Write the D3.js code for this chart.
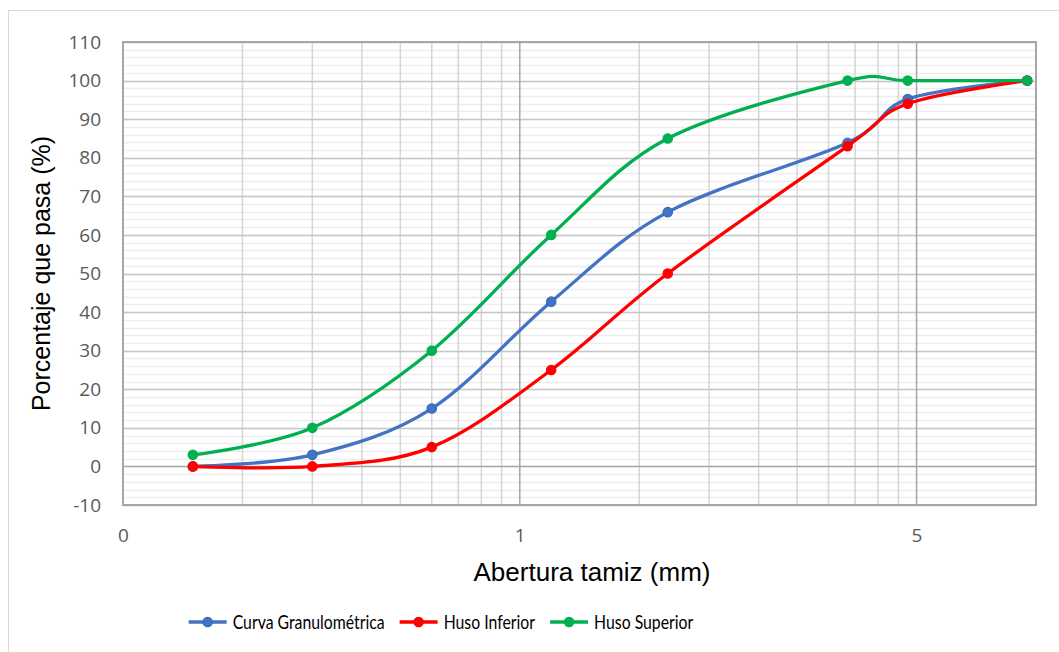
<!DOCTYPE html>
<html>
<head>
<meta charset="utf-8">
<script src="https://cdn.jsdelivr.net/npm/d3@7"></script>
<style>
  body { margin: 0; background: #fff; }
  svg { display: block; }
</style>
</head>
<body>
<div id="chart"></div>
<script>
// sieve openings (mm) and % passing
var sieve = [0.15, 0.3, 0.6, 1.2, 2.36, 6.7, 9.5, 19];
var curva = [0, 3, 15, 42.7, 65.9, 83.9, 95.2, 100];
var husoInf = [0, 0, 5, 25, 50, 83, 94, 100];
var husoSup = [3, 10, 30, 60, 85, 100, 100, 100];

var seriesNames = ["Curva Granulométrica", "Huso Inferior", "Huso Superior"];
var seriesColors = ["#4472C4", "#FF0000", "#00B050"];
var markerStroke = ["#2E6DB8", "#FF0000", "#00B050"];

var xTicks = [0.1, 1, 10];
var xTickLabels = ["0", "1", "5"];
var xMinor = [0.2, 0.3, 0.4, 0.5, 0.6, 0.7, 0.8, 0.9, 2, 3, 4, 5, 6, 7, 8, 9];
var yTicks = d3.range(-10, 111, 10);
var yMinor = d3.range(-10, 111, 2);

var width = 1059, height = 652;
var plot = { left: 123, top: 42, right: 1036, bottom: 505 };

var svg = d3.select("#chart").append("svg")
    .attr("width", width).attr("height", height);

// chart border
svg.append("rect")
    .attr("x", 8.5).attr("y", 10.5)
    .attr("width", 1100).attr("height", 700)
    .attr("fill", "#fff").attr("stroke", "#d9d9d9");

var x = d3.scaleLog().domain([0.1, 20]).range([plot.left, plot.right]);
var y = d3.scaleLinear().domain([-10, 110]).range([plot.bottom, plot.top]);

var grid = svg.append("g");

grid.selectAll(".ymin").data(yMinor).enter().append("line")
    .attr("x1", plot.left).attr("x2", plot.right)
    .attr("y1", function(d) { return Math.round(y(d)) + 0.5; })
    .attr("y2", function(d) { return Math.round(y(d)) + 0.5; })
    .attr("stroke", "#ededed").attr("stroke-width", 1.5);

grid.selectAll(".xmin").data(xMinor).enter().append("line")
    .attr("x1", function(d) { return x(d); }).attr("x2", function(d) { return x(d); })
    .attr("y1", plot.top).attr("y2", plot.bottom)
    .attr("stroke", "#d6d6d6").attr("stroke-width", 1.5);

grid.selectAll(".ymaj").data(yTicks).enter().append("line")
    .attr("x1", plot.left).attr("x2", plot.right)
    .attr("y1", function(d) { return Math.round(y(d)) + 0.5; })
    .attr("y2", function(d) { return Math.round(y(d)) + 0.5; })
    .attr("stroke", function(d) { return d === 0 ? "#a6a6a6" : "#c6c6c6"; })
    .attr("stroke-width", 1.5);

grid.selectAll(".xmaj").data(xTicks).enter().append("line")
    .attr("x1", function(d) { return x(d); }).attr("x2", function(d) { return x(d); })
    .attr("y1", plot.top).attr("y2", plot.bottom)
    .attr("stroke", "#a6a6a6").attr("stroke-width", 1.5);

// plot area frame
svg.append("rect")
    .attr("x", plot.left).attr("y", plot.top)
    .attr("width", plot.right - plot.left).attr("height", plot.bottom - plot.top)
    .attr("fill", "none").attr("stroke", "#a6a6a6").attr("stroke-width", 2);

// axes (labels only)
var yAxis = svg.append("g")
    .attr("transform", "translate(" + (plot.left - 22) + ",0)")
    .call(d3.axisLeft(y).tickValues(yTicks).tickSize(0).tickPadding(0)
        .tickFormat(function(d) { return String(d); }));
yAxis.select(".domain").remove();
yAxis.selectAll("text")
    .attr("font-family", "'Open Sans', sans-serif").attr("font-size", "19px")
    .attr("fill", "#595959");

var xAxis = svg.append("g")
    .attr("transform", "translate(0," + (plot.bottom + 23) + ")")
    .call(d3.axisBottom(x).tickValues(xTicks).tickSize(0).tickPadding(0)
        .tickFormat(function(d, i) { return xTickLabels[i]; }));
xAxis.select(".domain").remove();
xAxis.selectAll("text")
    .attr("font-family", "'Open Sans', sans-serif").attr("font-size", "19px")
    .attr("fill", "#595959");

// axis titles
svg.append("text")
    .attr("transform", "translate(50," + ((plot.top + plot.bottom) / 2) + ") rotate(-90)")
    .attr("text-anchor", "middle")
    .attr("font-family", "'Liberation Sans', Arial, sans-serif").attr("font-size", "25px")
    .attr("fill", "#000")
    .text("Porcentaje que pasa (%)");

svg.append("text")
    .attr("x", 592).attr("y", 581)
    .attr("text-anchor", "middle")
    .attr("font-family", "'Liberation Sans', Arial, sans-serif").attr("font-size", "26px")
    .attr("fill", "#000")
    .text("Abertura tamiz (mm)");

// series
var allSeries = [curva, husoInf, husoSup];
var line = d3.line()
    .x(function(d) { return x(d[0]); })
    .y(function(d) { return y(d[1]); })
    .curve(d3.curveCardinal.tension(0));

allSeries.forEach(function(vals, s) {
    var pts = sieve.map(function(v, i) { return [v, vals[i]]; });
    var g = svg.append("g");
    g.append("path")
        .attr("d", line(pts))
        .attr("fill", "none")
        .attr("stroke", seriesColors[s])
        .attr("stroke-width", 3.3)
        .attr("stroke-linejoin", "round");
    g.selectAll("circle").data(pts).enter().append("circle")
        .attr("cx", function(d) { return x(d[0]); })
        .attr("cy", function(d) { return y(d[1]); })
        .attr("r", 4.7)
        .attr("fill", seriesColors[s])
        .attr("stroke", markerStroke[s])
        .attr("stroke-width", 1.2);
});

// legend
var legend = svg.append("g");
var cursor = 0;
seriesNames.forEach(function(name, s) {
    var it = legend.append("g");
    it.append("line")
        .attr("x1", 0).attr("x2", 38).attr("y1", 0).attr("y2", 0)
        .attr("stroke", seriesColors[s]).attr("stroke-width", 3.3);
    it.append("circle")
        .attr("cx", 19).attr("cy", 0).attr("r", 4.7)
        .attr("fill", seriesColors[s]).attr("stroke", markerStroke[s]).attr("stroke-width", 1.2);
    var t = it.append("text")
        .attr("x", 44).attr("y", 7)
        .attr("font-family", "Lato, sans-serif").attr("font-size", "20px")
        .attr("fill", "#000")
        .text(name);
    // squeeze horizontally, the original face is narrower
    var raw = t.node().getComputedTextLength();
    t.attr("textLength", raw * 0.79).attr("lengthAdjust", "spacingAndGlyphs");
    var w = 44 + raw * 0.79;
    it.attr("transform", "translate(" + cursor + ",0)");
    cursor += w + 15;
});
var total = cursor - 15;
legend.attr("transform", "translate(" + (441 - total / 2) + ",622)");
</script>
</body>
</html>
